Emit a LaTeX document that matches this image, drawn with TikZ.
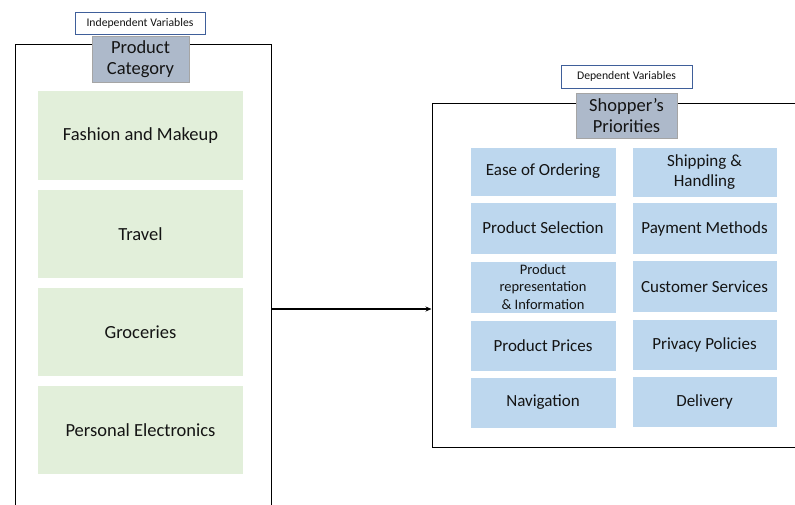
\documentclass[tikz,border=0pt]{standalone}
\usepackage{fontspec}
\setmainfont{Carlito}
\usetikzlibrary{arrows.meta}
\definecolor{greenbox}{HTML}{E2EFDA}
\definecolor{bluebox}{HTML}{BDD7EE}
\definecolor{headfill}{HTML}{ADB9CA}
\definecolor{headline}{HTML}{A5A5A5}
\definecolor{labline}{HTML}{3F5F9A}
\definecolor{txt}{HTML}{141414}
\tikzset{
  frame/.style={draw=black, line width=1pt, fill=none, inner sep=0pt},
  varlabel/.style={draw=labline, line width=0.8pt, fill=white, inner sep=0pt, text=txt,
    font=\fontsize{11.7}{13}\selectfont},
  header/.style={draw=headline, line width=0.8pt, fill=headfill, inner sep=0pt, text=txt,
    align=center, font=\fontsize{18.5}{21.5}\selectfont},
  catbox/.style={fill=greenbox, inner sep=0pt, minimum width=205pt, text=txt,
    font=\fontsize{18.5}{22}\selectfont},
  prio/.style={fill=bluebox, draw=white, line width=0.6pt, inner sep=0pt, text=txt, align=center,
    font=\fontsize{17}{20}\selectfont},
}
\begin{document}
\begin{tikzpicture}[x=1pt, y=-1pt]
\useasboundingbox (0,0) rectangle (795,504);
\clip (0,0) rectangle (795,504);
% left side
\node[frame, minimum width=256pt, minimum height=476pt] (lframe) at (143,282) {};
\node[varlabel, minimum width=130pt, minimum height=22pt] (indlab) at (140,23) {Independent Variables};
\node[header, minimum width=97pt, minimum height=46pt] (pc) at (140.5,59) {Product\\Category};
\node[catbox, minimum height=89pt] (c1) at (140.5,135.5) {Fashion and Makeup};
\node[catbox, minimum height=88pt] (c2) at (140.5,234) {Travel};
\node[catbox, minimum height=88pt] (c3) at (140.5,332) {Groceries};
\node[catbox, minimum height=88pt] (c4) at (140.5,430) {Personal Electronics};
% right side
\node[frame, minimum width=388pt, minimum height=344pt] (rframe) at (626,275) {};
\node[varlabel, minimum width=131pt, minimum height=23pt] (deplab) at (626.5,76.5) {Dependent Variables};
\node[header, minimum width=101pt, minimum height=45pt] (sp) at (626.5,115.5) {Shopper’s\\Priorities};
\node[prio, minimum width=146pt, minimum height=49pt] (p1) at (543,171.5) {Ease of Ordering};
\node[prio, minimum width=146pt, minimum height=52pt] (p2) at (543,228) {Product Selection};
\node[prio, minimum width=146pt, minimum height=52pt, font=\fontsize{14.5}{17.5}\selectfont] (p3) at (543,287) {Product\\representation\\\& Information};
\node[prio, minimum width=146pt, minimum height=51pt] (p4) at (543,345.5) {Product Prices};
\node[prio, minimum width=146pt, minimum height=51pt] (p5) at (543,402.5) {Navigation};
\node[prio, minimum width=145pt, minimum height=50pt] (q1) at (704.5,172) {Shipping \&\\Handling};
\node[prio, minimum width=145pt, minimum height=52pt] (q2) at (704.5,228.5) {Payment Methods};
\node[prio, minimum width=145pt, minimum height=52pt] (q3) at (704.5,286.5) {Customer Services};
\node[prio, minimum width=145pt, minimum height=51pt] (q4) at (704.5,344.5) {Privacy Policies};
\node[prio, minimum width=145pt, minimum height=51pt] (q5) at (704.5,401.5) {Delivery};
% connector
\coordinate (ay) at (0,309);
\draw[line width=1.4pt, -{Stealth[length=6pt,width=5pt]}] (lframe.east |- ay) -- (rframe.west |- ay);
\end{tikzpicture}
\end{document}
